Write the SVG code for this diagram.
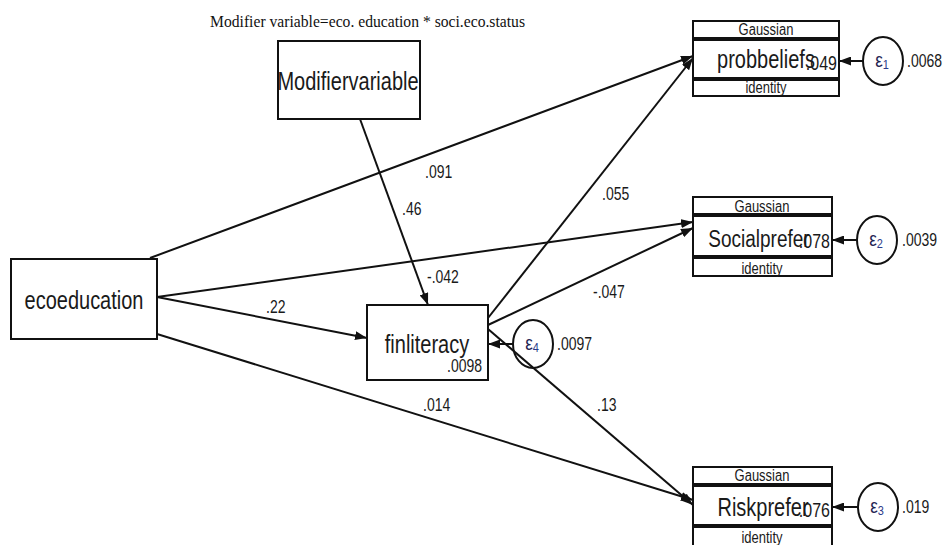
<svg xmlns="http://www.w3.org/2000/svg" width="945" height="545" viewBox="0 0 945 545">
<style>
.bx{fill:#fff;stroke:#111;stroke-width:2}
.ln{stroke:#111;stroke-width:2;fill:none;marker-end:url(#ah)}
.big{font-family:"Liberation Sans",Arial,sans-serif;font-size:20px;fill:#1a1a1a}
.sm{font-family:"Liberation Sans",Arial,sans-serif;font-size:13px;fill:#1a1a1a;text-anchor:middle}
.lbl{font-family:"Liberation Sans",Arial,sans-serif;font-size:14px;fill:#1a1a1a}
.eps{font-family:"Liberation Sans",Arial,sans-serif;font-size:17px;fill:#1c2250;text-anchor:middle}
.sub{font-size:11px;fill:#2a3a8a}
.ttl{font-family:"Liberation Serif","Times New Roman",serif;font-size:14px;fill:#111}
</style>
<defs>
<marker id="ah" viewBox="0 0 12 9" markerWidth="12" markerHeight="9" markerUnits="userSpaceOnUse" refX="12" refY="4.5" orient="auto">
<path d="M0,0 L12,4.5 L0,9 z" fill="#111"/>
</marker>
</defs>
<rect width="945" height="545" fill="#fff"/>
<text class="ttl" transform="translate(210,27) scale(1,1.12)" textLength="315" lengthAdjust="spacingAndGlyphs">Modifier variable=eco. education * soci.eco.status</text>

<g id="connectors">
<line class="ln" x1="150" y1="258" x2="693" y2="56"/>
<line class="ln" x1="157" y1="297" x2="693" y2="222"/>
<line class="ln" x1="157" y1="297" x2="367" y2="338"/>
<line class="ln" x1="157" y1="334" x2="693" y2="500"/>
<line class="ln" x1="360" y1="119" x2="428" y2="305"/>
<line class="ln" x1="488" y1="318" x2="693" y2="58"/>
<line class="ln" x1="488" y1="325" x2="693" y2="228"/>
<line class="ln" x1="488" y1="329" x2="693" y2="505"/>
<line class="ln" x1="513" y1="344" x2="488" y2="344"/>
<line class="ln" x1="863" y1="61" x2="839" y2="61"/>
<line class="ln" x1="857" y1="240" x2="832" y2="240"/>
<line class="ln" x1="858" y1="507" x2="832" y2="507"/>
<g class="lbl">
<text transform="translate(425,178) scale(1,1.3)">.091</text>
<text transform="translate(402,215) scale(1,1.3)">.46</text>
<text transform="translate(427,283) scale(1,1.3)">-.042</text>
<text transform="translate(266,313) scale(1,1.3)">.22</text>
<text transform="translate(423,411) scale(1,1.3)">.014</text>
<text transform="translate(602,200) scale(1,1.3)">.055</text>
<text transform="translate(593,298) scale(1,1.3)">-.047</text>
<text transform="translate(597,411) scale(1,1.3)">.13</text>
</g>
</g>

<g id="ecoeducation">
<rect class="bx" x="11" y="259" width="146" height="80"/>
<text class="big" transform="translate(84,309) scale(1,1.3)" text-anchor="middle">ecoeducation</text>
</g>

<g id="modifiervariable">
<rect class="bx" x="278" y="41" width="142" height="78"/>
<text class="big" transform="translate(348,90) scale(1,1.3)" text-anchor="middle">Modifiervariable</text>
</g>

<g id="finliteracy">
<rect class="bx" x="367" y="305" width="121" height="75"/>
<text class="big" transform="translate(427,353) scale(1,1.3)" text-anchor="middle">finliteracy</text>
<text class="lbl" transform="translate(482,372) scale(1,1.3)" text-anchor="end">.0098</text>
</g>

<g id="probbeliefs">
<rect class="bx" x="693" y="21" width="146" height="17"/>
<rect class="bx" x="693" y="40" width="146" height="38"/>
<rect class="bx" x="693" y="80" width="146" height="16"/>
<text class="sm" transform="translate(766,35) scale(1,1.2)">Gaussian</text>
<text class="big" transform="translate(766,68) scale(1,1.3)" text-anchor="middle">probbeliefs</text>
<text class="lbl" transform="translate(837,70) scale(1,1.3)" text-anchor="end" style="font-size:16px">.049</text>
<text class="sm" transform="translate(766,93) scale(1,1.2)">identity</text>
</g>

<g id="socialprefer">
<rect class="bx" x="693" y="197" width="139" height="17"/>
<rect class="bx" x="693" y="216" width="139" height="40"/>
<rect class="bx" x="693" y="258" width="139" height="18"/>
<text class="sm" transform="translate(762,212) scale(1,1.2)">Gaussian</text>
<text class="big" transform="translate(759,247) scale(1,1.3)" text-anchor="middle" style="font-size:19px">Socialprefer</text>
<text class="lbl" transform="translate(830,248) scale(1,1.3)" text-anchor="end" style="font-size:16px">.078</text>
<text class="sm" transform="translate(762,274) scale(1,1.2)">identity</text>
</g>

<g id="riskprefer">
<rect class="bx" x="693" y="467" width="139" height="17"/>
<rect class="bx" x="693" y="486" width="139" height="39"/>
<rect class="bx" x="693" y="527" width="139" height="22"/>
<text class="sm" transform="translate(762,481) scale(1,1.2)">Gaussian</text>
<text class="big" transform="translate(763,516) scale(1,1.3)" text-anchor="middle">Riskprefer</text>
<text class="lbl" transform="translate(830,517) scale(1,1.3)" text-anchor="end" style="font-size:16px">.076</text>
<text class="sm" transform="translate(762,543) scale(1,1.2)">identity</text>
</g>

<g id="e1">
<ellipse class="bx" cx="883" cy="61" rx="20" ry="24"/>
<text class="eps" transform="translate(882,67) scale(1,1.2)">ε<tspan class="sub" dy="2">1</tspan></text>
<text class="lbl" transform="translate(907,67) scale(1,1.3)">.0068</text>
</g>
<g id="e2">
<ellipse class="bx" cx="877" cy="240" rx="20" ry="24"/>
<text class="eps" transform="translate(876,246) scale(1,1.2)">ε<tspan class="sub" dy="2">2</tspan></text>
<text class="lbl" transform="translate(902,246) scale(1,1.3)">.0039</text>
</g>
<g id="e3">
<ellipse class="bx" cx="878" cy="507" rx="20" ry="24"/>
<text class="eps" transform="translate(877,513) scale(1,1.2)">ε<tspan class="sub" dy="2">3</tspan></text>
<text class="lbl" transform="translate(902,513) scale(1,1.3)">.019</text>
</g>
<g id="e4">
<ellipse cx="533" cy="344" rx="20" ry="24" fill="none" stroke="#111" stroke-width="2"/>
<text class="eps" transform="translate(532,350) scale(1,1.2)">ε<tspan class="sub" dy="2">4</tspan></text>
<text class="lbl" transform="translate(557,350) scale(1,1.3)">.0097</text>
</g>
</svg>
